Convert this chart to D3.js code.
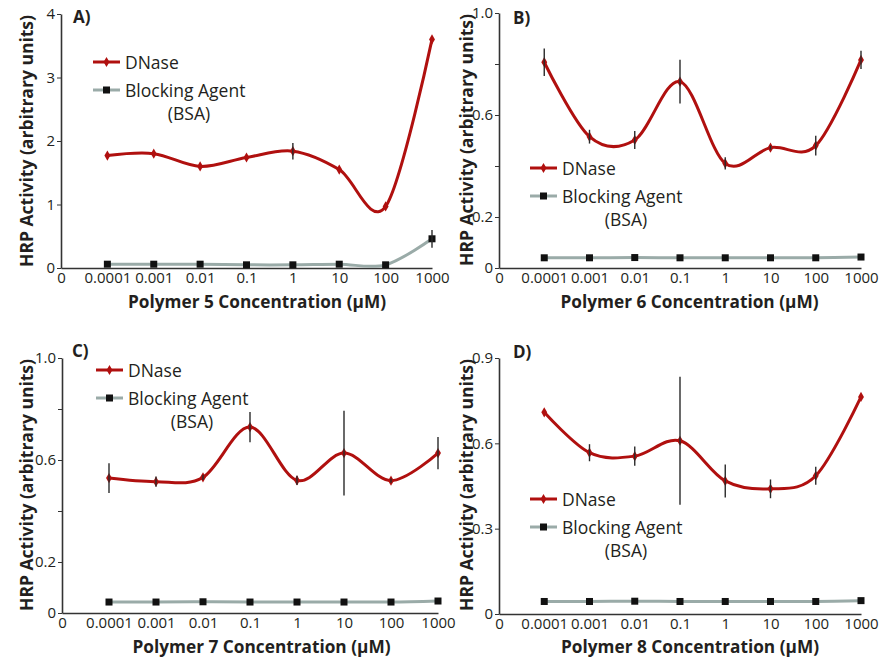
<!DOCTYPE html>
<html>
<head>
<meta charset="utf-8">
<script src="https://cdn.jsdelivr.net/npm/d3@7"></script>
<style>
  html, body { margin: 0; padding: 0; background: #fff; }
  svg { display: block; }
  text { font-family: "Open Sans", "Noto Sans", sans-serif; fill: #231f20; }
</style>
</head>
<body>
<svg id="chart" width="880" height="662"></svg>
<script>
// ---------- DATA ----------
const xLabels = ["0", "0.0001", "0.001", "0.01", "0.1", "1", "10", "100", "1000"];
const concentrations = ["0.0001", "0.001", "0.01", "0.1", "1", "10", "100", "1000"];

// Panel A (Polymer 5)
const dnaseA    = [1.77, 1.80, 1.60, 1.74, 1.84, 1.55, 0.97, 3.60];
const dnaseErrA = [0, 0, 0, 0, 0.13, 0, 0, 0];
const bsaA      = [0.06, 0.06, 0.06, 0.05, 0.05, 0.06, 0.05, 0.46];
const bsaErrA   = [0, 0, 0, 0, 0, 0, 0, 0.14];
const yTicksA   = [0, 1, 2, 3, 4];
const yLabelsA  = ["0", "1", "2", "3", "4"];

// Panel B (Polymer 6)
const dnaseB    = [0.807, 0.515, 0.502, 0.731, 0.410, 0.472, 0.480, 0.816];
const dnaseErrB = [0.054, 0.027, 0.035, 0.086, 0.024, 0.008, 0.039, 0.036];
const bsaB      = [0.040, 0.040, 0.041, 0.040, 0.040, 0.040, 0.040, 0.043];
const bsaErrB   = [0, 0, 0, 0, 0, 0, 0, 0];
const yTicksB   = [0, 0.2, 0.4, 0.6, 0.8, 1.0];
const yLabelsB  = ["0", "0.2", "", "0.6", "", "1.0"];

// Panel C (Polymer 7)
const dnaseC    = [0.529, 0.515, 0.532, 0.729, 0.520, 0.627, 0.519, 0.627];
const dnaseErrC = [0.058, 0.020, 0.010, 0.059, 0.018, 0.166, 0.008, 0.063];
const bsaC      = [0.043, 0.043, 0.044, 0.043, 0.043, 0.043, 0.043, 0.047];
const bsaErrC   = [0, 0, 0, 0, 0, 0, 0, 0];
const yTicksC   = [0, 0.2, 0.4, 0.6, 0.8, 1.0];
const yLabelsC  = ["0", "0.2", "", "0.6", "", "1.0"];

// Panel D (Polymer 8)
const dnaseD    = [0.709, 0.567, 0.555, 0.609, 0.468, 0.440, 0.486, 0.763];
const dnaseErrD = [0, 0.030, 0.034, 0.225, 0.058, 0.033, 0.032, 0];
const bsaD      = [0.044, 0.044, 0.045, 0.044, 0.044, 0.044, 0.044, 0.047];
const bsaErrD   = [0, 0, 0, 0, 0, 0, 0, 0];
const yTicksD   = [0, 0.3, 0.6, 0.9];
const yLabelsD  = ["0", "0.3", "0.6", "0.9"];

const seriesNames = ["DNase", "Blocking Agent", "(BSA)"];

// ---------- STYLE ----------
const RED = "#b0100f";
const GREY = "#9aaba8";
const AXIS = "#333";

const svg = d3.select("#chart");

const panels = [
  { letter: "A)", polymer: "5", dnase: dnaseA, dErr: dnaseErrA, bsa: bsaA, bErr: bsaErrA,
    yTicks: yTicksA, yLabels: yLabelsA, yMax: 4,
    x0: 61, x1: 432, yTop: 14, yBot: 268,
    legend: { x: 93, y: 62 }, letterPos: { x: 73, y: 23 },
    yTitle: { x: 25, y: 141 }, xTitle: { x: 257, y: 308 } },
  { letter: "B)", polymer: "6", dnase: dnaseB, dErr: dnaseErrB, bsa: bsaB, bErr: bsaErrB,
    yTicks: yTicksB, yLabels: yLabelsB, yMax: 1.0,
    x0: 499, x1: 861, yTop: 13, yBot: 268,
    legend: { x: 530, y: 168 }, letterPos: { x: 513, y: 24 },
    yTitle: { x: 465, y: 140 }, xTitle: { x: 689.5, y: 308 } },
  { letter: "C)", polymer: "7", dnase: dnaseC, dErr: dnaseErrC, bsa: bsaC, bErr: bsaErrC,
    yTicks: yTicksC, yLabels: yLabelsC, yMax: 1.0,
    x0: 62, x1: 438, yTop: 358, yBot: 613,
    legend: { x: 96, y: 370 }, letterPos: { x: 72, y: 357 },
    yTitle: { x: 25, y: 485 }, xTitle: { x: 261.5, y: 653 } },
  { letter: "D)", polymer: "8", dnase: dnaseD, dErr: dnaseErrD, bsa: bsaD, bErr: bsaErrD,
    yTicks: yTicksD, yLabels: yLabelsD, yMax: 0.9,
    x0: 499, x1: 861, yTop: 358, yBot: 614,
    legend: { x: 530, y: 499 }, letterPos: { x: 513, y: 358 },
    yTitle: { x: 465, y: 485 }, xTitle: { x: 690, y: 653 } }
];

panels.forEach(drawPanel);

function drawPanel(p) {
  const g = svg.append("g");
  const x = d3.scalePoint().domain(xLabels).range([p.x0, p.x1]).padding(0);
  const y = d3.scaleLinear().domain([0, p.yMax]).range([p.yBot, p.yTop]);

  // Axes
  const xAxis = g.append("g").attr("transform", `translate(0,${p.yBot})`)
    .call(d3.axisBottom(x).tickSize(0).tickPadding(4).tickSizeOuter(0));
  xAxis.select(".domain").attr("stroke", AXIS).attr("stroke-width", 1.6);
  xAxis.selectAll("text").attr("font-size", 15).attr("font-family", "Open Sans").attr("fill", "#231f20");

  const yAxis = g.append("g").attr("transform", `translate(${p.x0},0)`)
    .call(d3.axisLeft(y).tickValues(p.yTicks).tickSize(4).tickSizeOuter(0).tickPadding(2)
      .tickFormat((d, i) => p.yLabels[i]));
  yAxis.select(".domain").attr("stroke", AXIS).attr("stroke-width", 1.6);
  yAxis.selectAll(".tick line").attr("stroke", AXIS).attr("stroke-width", 1);
  yAxis.selectAll("text").attr("font-size", 15).attr("font-family", "Open Sans").attr("fill", "#231f20");

  // Titles
  g.append("text")
    .attr("transform", `translate(${p.yTitle.x},${p.yTitle.y}) rotate(-90)`)
    .attr("text-anchor", "middle").attr("dominant-baseline", "central")
    .attr("font-weight", "bold").attr("font-size", 18.5)
    .attr("textLength", 252).attr("lengthAdjust", "spacingAndGlyphs")
    .text("HRP Activity (arbitrary units)");

  g.append("text")
    .attr("x", p.xTitle.x).attr("y", p.xTitle.y)
    .attr("text-anchor", "middle").attr("font-weight", "bold").attr("font-size", 18.5)
    .attr("textLength", 258).attr("lengthAdjust", "spacingAndGlyphs")
    .text(`Polymer ${p.polymer} Concentration (μM)`);

  g.append("text").attr("x", p.letterPos.x).attr("y", p.letterPos.y)
    .attr("font-weight", "bold").attr("font-size", 17).text(p.letter);

  const pts = (vals) => concentrations.map((c, i) => [x(c), y(vals[i])]);
  const line = d3.line().curve(d3.curveCardinal.tension(0));

  // BSA line
  g.append("path").attr("d", line(pts(p.bsa)))
    .attr("fill", "none").attr("stroke", GREY).attr("stroke-width", 3);
  // DNase line
  g.append("path").attr("d", line(pts(p.dnase)))
    .attr("fill", "none").attr("stroke", RED).attr("stroke-width", 3);

  // BSA markers
  g.selectAll(".bsaM").data(concentrations).enter().append("rect")
    .attr("x", d => x(d) - 3.5).attr("y", (d, i) => y(p.bsa[i]) - 3.5)
    .attr("width", 7).attr("height", 7).attr("fill", "#111");
  // DNase markers
  g.selectAll(".dnM").data(concentrations).enter().append("path")
    .attr("transform", (d, i) => `translate(${x(d)},${y(p.dnase[i])})`)
    .attr("d", d3.symbol(d3.symbolDiamond, 30)).attr("fill", RED);

  // Error bars
  const errs = [];
  concentrations.forEach((c, i) => {
    if (p.dErr[i] > 0) errs.push([c, p.dnase[i], p.dErr[i]]);
    if (p.bErr[i] > 0) errs.push([c, p.bsa[i], p.bErr[i]]);
  });
  g.selectAll(".err").data(errs).enter().append("line")
    .attr("x1", d => x(d[0])).attr("x2", d => x(d[0]))
    .attr("y1", d => y(d[1] - d[2])).attr("y2", d => y(d[1] + d[2]))
    .attr("stroke", "#2a2a2a").attr("stroke-width", 1.4);

  // Legend
  const L = g.append("g").attr("transform", `translate(${p.legend.x},${p.legend.y})`);
  L.append("line").attr("x1", 0).attr("x2", 27).attr("y1", 0).attr("y2", 0)
    .attr("stroke", RED).attr("stroke-width", 3);
  L.append("path").attr("transform", "translate(13.5,0)")
    .attr("d", d3.symbol(d3.symbolDiamond, 30)).attr("fill", RED);
  L.append("text").attr("x", 32).attr("y", 0).attr("dominant-baseline", "central")
    .attr("font-size", 17.5).text(seriesNames[0]);
  L.append("line").attr("x1", 0).attr("x2", 27).attr("y1", 28).attr("y2", 28)
    .attr("stroke", GREY).attr("stroke-width", 3);
  L.append("rect").attr("x", 10).attr("y", 24.5).attr("width", 7).attr("height", 7).attr("fill", "#111");
  L.append("text").attr("x", 32).attr("y", 28).attr("dominant-baseline", "central")
    .attr("font-size", 17.5).text(seriesNames[1]);
  L.append("text").attr("x", 96).attr("y", 51).attr("dominant-baseline", "central")
    .attr("text-anchor", "middle").attr("font-size", 17.5).text(seriesNames[2]);
}
</script>
</body>
</html>
